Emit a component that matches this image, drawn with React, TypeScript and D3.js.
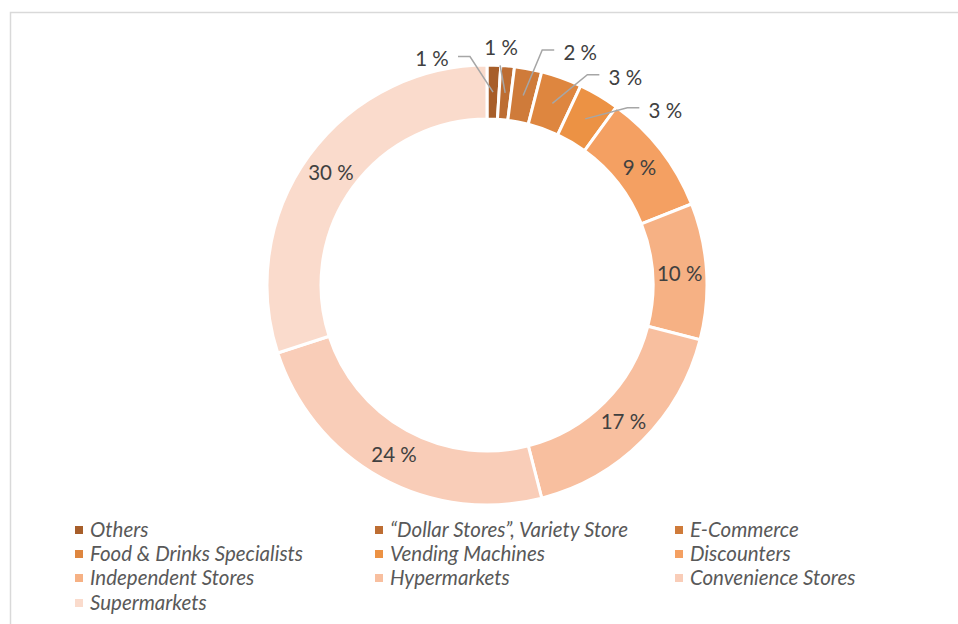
import React from "react";
import * as d3 from "d3";

const categories = [
  "Others",
  "“Dollar Stores”, Variety Store",
  "E-Commerce",
  "Food & Drinks Specialists",
  "Vending Machines",
  "Discounters",
  "Independent Stores",
  "Hypermarkets",
  "Convenience Stores",
  "Supermarkets",
];
const shares = [1, 1, 2, 3, 3, 9, 10, 17, 24, 30];
const colors = [
  "#a75e2a",
  "#bd6d33",
  "#cf7b3a",
  "#de863f",
  "#ec9244",
  "#f4a062",
  "#f6b184",
  "#f8bf9f",
  "#f9cdb8",
  "#fadbcc",
];

// callout layout for the small slices: [angle (deg, clockwise from top), radius]
const calloutLayout: Record<number, [number, number]> = {
  0: [-13.6, 234],
  1: [3.4, 238],
  2: [21.8, 251],
  3: [33.6, 250],
  4: [45.5, 250],
};

const W = 958;
const H = 624;
const cx = 487;
const cy = 285;
const outerR = 220;
const innerR = 166;
const FONT = "Lato, 'Open Sans', sans-serif";

export default function App() {
  const pie = d3
    .pie<number>()
    .sort(null)
    .value((d) => d)
    .startAngle(0)
    .endAngle(2 * Math.PI);
  const arcs = pie(shares);
  const arc = d3.arc<d3.PieArcDatum<number>>().innerRadius(innerR).outerRadius(outerR);
  const labelR = (innerR + outerR) / 2;
  const labelArc = d3.arc<d3.PieArcDatum<number>>().innerRadius(labelR).outerRadius(labelR);

  const legendCols = [75, 375, 675];
  const legendRows = [529, 553, 577, 602];

  return (
    <svg
      width={W}
      height={H}
      style={{ position: "absolute", left: 0, top: 0, background: "#fff" }}
    >
      <rect x={10.5} y={12.5} width={1200} height={1200} fill="#fff" stroke="#d9d9d9" strokeWidth={1.5} />
      <g transform={`translate(${cx},${cy})`}>
        {arcs.map((a, i) => (
          <path key={i} d={arc(a) || ""} fill={colors[i]} stroke="#fff" strokeWidth={3} />
        ))}
        {arcs.map((a, i) => {
          const [x, y] = labelArc.centroid(a);
          const text = `${shares[i]} %`;
          const lay = calloutLayout[i];
          if (!lay) {
            return (
              <text
                key={"l" + i}
                x={x}
                y={y}
                textAnchor="middle"
                dominantBaseline="central"
                fontFamily={FONT}
                fontSize={20.5}
                fill="#404040"
              >
                {text}
              </text>
            );
          }
          const ang = (lay[0] * Math.PI) / 180;
          const lx = lay[1] * Math.sin(ang);
          const ly = -lay[1] * Math.cos(ang);
          const hw = 17;
          let pts: [number, number][];
          if (Math.abs(lx - x) < hw) {
            pts = [
              [x, y],
              [lx - 1, ly + 18],
            ];
          } else if (lx > x) {
            pts = [
              [x, y],
              [lx - hw - 21, ly - 2],
              [lx - hw - 9, ly - 2],
            ];
          } else {
            pts = [
              [x, y],
              [lx + hw + 21, ly - 1],
              [lx + hw + 9, ly - 1],
            ];
          }
          return (
            <g key={"l" + i}>
              <path
                d={d3.line()(pts) || ""}
                fill="none"
                stroke="#a6a6a6"
                strokeWidth={1.5}
              />
              <text
                x={lx}
                y={ly}
                textAnchor="middle"
                dominantBaseline="central"
                fontFamily={FONT}
                fontSize={20.5}
                fill="#404040"
              >
                {text}
              </text>
            </g>
          );
        })}
      </g>
      <g>
        {categories.map((c, i) => {
          const col = i % 3;
          const row = Math.floor(i / 3);
          const x = legendCols[col];
          const y = legendRows[row];
          return (
            <g key={"lg" + i}>
              <rect x={x} y={y - 3} width={8} height={8} fill={colors[i]} />
              <text
                x={x + 15}
                y={y}
                dominantBaseline="central"
                fontFamily={FONT}
                fontStyle="italic"
                fontSize={20.5}
                fill="#595959"
              >
                {c}
              </text>
            </g>
          );
        })}
      </g>
    </svg>
  );
}
